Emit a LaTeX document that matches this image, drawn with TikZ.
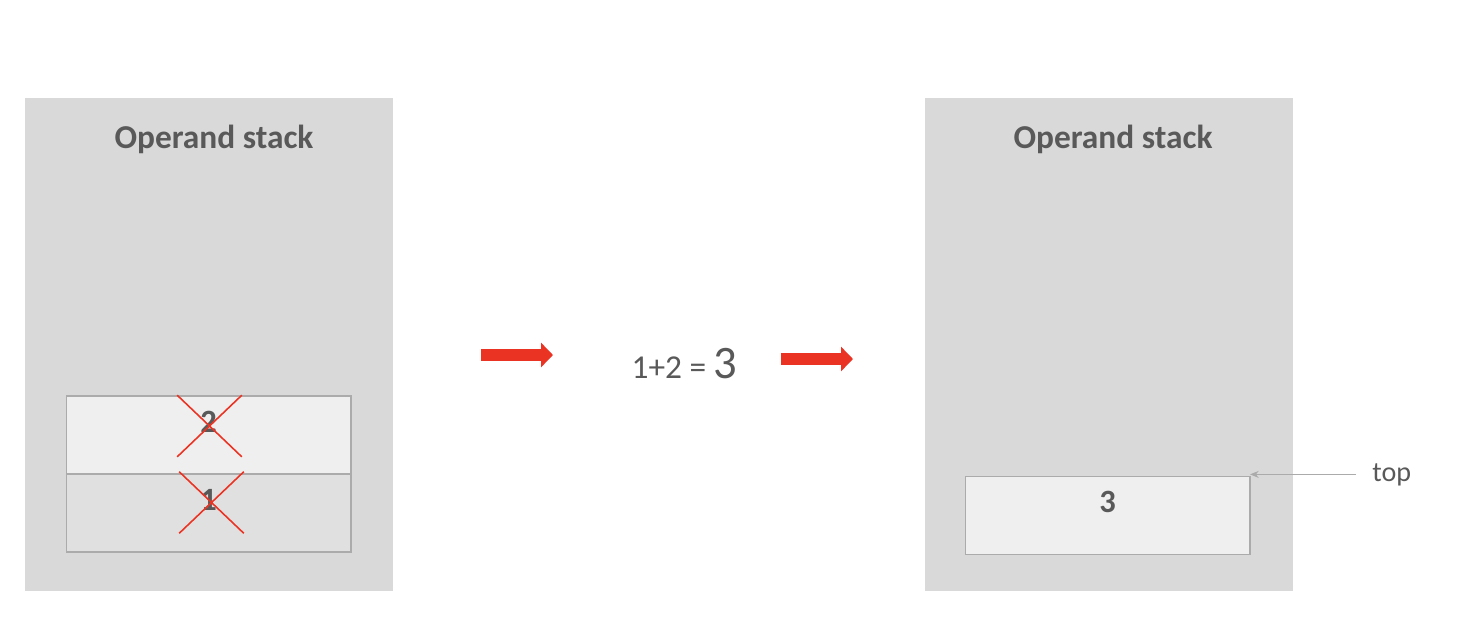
\documentclass[tikz,border=0pt]{standalone}
\usepackage{fontspec}
\setmainfont{Carlito}
\usetikzlibrary{arrows.meta, positioning, shapes.misc}
\definecolor{opgray}{HTML}{D9D9D9}
\definecolor{oplight}{HTML}{EFEFEF}
\definecolor{opmid}{HTML}{E0E0E0}
\definecolor{opline}{HTML}{ABABAB}
\definecolor{optext}{HTML}{595959}
\definecolor{opred}{HTML}{EA3323}

\begin{document}
\begin{tikzpicture}[
  x=0.02cm, y=-0.02cm,
  node distance=0pt,
  every node/.style={text=optext},
  panel/.style={rectangle, fill=opgray, minimum width=7.36cm, minimum height=9.86cm, inner sep=0pt, outer sep=0pt},
  title/.style={font=\fontsize{19}{23}\selectfont\bfseries, anchor=base},
  slot/.style={rectangle, draw=opline, line width=0.6pt, fill=#1, minimum width=5.7cm, minimum height=1.56cm, inner sep=0pt, outer sep=0pt},
  num/.style={font=\fontsize{18.5}{22}\selectfont\bfseries},
  strike/.style={cross out, draw=opred, line width=0.9pt, minimum width=1.26cm, minimum height=1.2cm, inner sep=0pt},
  bigarrow/.style={line width=0.24cm, opred, -{Triangle[length=0.24cm, width=0.48cm]}},
  ptr/.style={opline, line width=0.6pt, -{Stealth[length=5pt, width=4pt]}},
]
\useasboundingbox (0,0) rectangle (1464,636);

% left stack, before the add
\node[panel] (lstack) at (209,344.5) {};
\node[title] (ltitle) at (214,148) {Operand stack};
\node[slot=oplight] (cell2) at (208.5,435) {};
\node[slot=opmid, below=of cell2] (cell1) {};
\node[num] (two) at ([yshift=0.26cm]cell2.center) {2};
\node[num] (one) at ([yshift=0.27cm]cell1.center) {1};
\node[strike] (x2) at (209.5,426) {};
\node[strike] (x1) at (211.5,502.5) {};

% pop, add, push
\coordinate (a1s) at (481,355);
\coordinate (a1e) at (553,355);
\node[anchor=base, font=\fontsize{19}{23}\selectfont] (eq) at (684.5,378) {1+2 = {\fontsize{26.5}{31}\selectfont 3}};
\coordinate (a2s) at (781,359);
\coordinate (a2e) at (853,359);
\draw[bigarrow] (a1s) -- (a1e);
\draw[bigarrow] (a2s) -- (a2e);

% right stack, after the add
\node[panel] (rstack) at (1109,344.5) {};
\node[title] (rtitle) at (1113,148) {Operand stack};
\node[slot=oplight] (cell3) at (1107.5,515.5) {};
\node[num] (three) at ([yshift=0.27cm]cell3.center) {3};
\node[anchor=base west, font=\fontsize{16}{19}\selectfont, inner xsep=0.16cm, inner ysep=0pt] (toplbl) at (1364,481) {top};
\draw[ptr, shorten <=0.16cm] (toplbl.west) -- (cell3.east |- toplbl.west);

\end{tikzpicture}
\end{document}
